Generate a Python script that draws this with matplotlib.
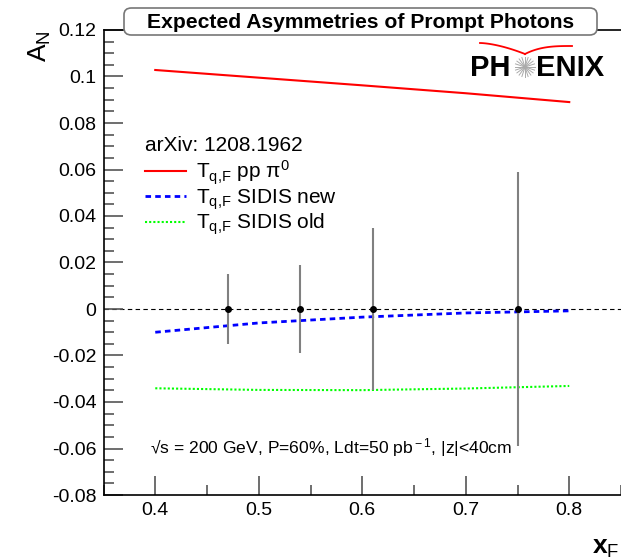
import matplotlib
matplotlib.use('Agg')
import matplotlib.pyplot as plt
from matplotlib.patches import FancyBboxPatch
from matplotlib.lines import Line2D
from matplotlib.ticker import MultipleLocator
import numpy as np

plt.rcParams['font.family'] = ['Liberation Sans', 'DejaVu Sans']
plt.rcParams['mathtext.fontset'] = 'custom'
plt.rcParams['mathtext.rm'] = 'Liberation Sans'
plt.rcParams['mathtext.it'] = 'Liberation Sans:italic'

# theory curves (arXiv: 1208.1962)
curve_x = [0.4, 0.5, 0.6, 0.7, 0.8]
pp_pi0 = [0.1028, 0.0995, 0.0962, 0.0928, 0.0890]
sidis_new = [-0.0100, -0.0060, -0.0035, -0.0017, -0.0008]
sidis_old = [-0.0341, -0.0348, -0.0349, -0.0342, -0.0331]

# projected points
pts_x = [0.47, 0.54, 0.61, 0.75]
pts_y = [0.0, 0.0, 0.0, 0.0]
pts_err = [0.015, 0.019, 0.035, 0.059]

W, H = 621, 560
fig = plt.figure(figsize=(W / 100, H / 100), dpi=100)


def fx(px):
    return px / W


def fy(py):
    return 1 - py / H


ax = fig.add_axes([fx(103.5), fy(495), fx(621) - fx(103.5), fy(30) - fy(495)])
ax.set_xlim(0.35, 0.85)
ax.set_ylim(-0.08, 0.12)

ax.axhline(0, color='black', lw=0.8, ls=(0, (4, 3)), zorder=1)

sub = r'$_{\rm q{,}F}$'
ax.plot(curve_x, pp_pi0, color='#ff0000', lw=1.5, label='T' + sub + r' pp π$^{\rm 0}$')
ax.plot(curve_x, sidis_new, color='#0000ff', lw=2, ls=(0, (2, 1.5)),
        label='T' + sub + ' SIDIS new')
ax.plot(curve_x, sidis_old, color='#00ff00', lw=1.5, ls=(0, (1, 1)),
        label='T' + sub + ' SIDIS old')

ax.errorbar(pts_x, pts_y, yerr=pts_err, fmt='o', color='black', ms=4,
            ecolor='#808080', elinewidth=1.5, capsize=0, zorder=5)

ax.xaxis.set_major_locator(MultipleLocator(0.1))
ax.xaxis.set_minor_locator(MultipleLocator(0.05))
ax.yaxis.set_major_locator(MultipleLocator(0.02))
ax.yaxis.set_minor_locator(MultipleLocator(0.005))
ax.tick_params(which='both', direction='in', top=False, right=False,
               labelsize=14, color='#555555', width=1.2)
ax.tick_params(which='major', length=14, pad=5)
ax.tick_params(which='minor', length=7)
ax.set_xticks([0.4, 0.5, 0.6, 0.7, 0.8])
ax.set_xticklabels(['0.4', '0.5', '0.6', '0.7', '0.8'])
ax.set_yticks(np.arange(-0.08, 0.121, 0.02))
ax.set_yticklabels(['-0.08', '-0.06', '-0.04', '-0.02', '0', '0.02', '0.04',
                    '0.06', '0.08', '0.1', '0.12'])
ax.spines['right'].set_visible(False)
for s in ['left', 'bottom', 'top']:
    ax.spines[s].set_linewidth(1.2)

leg = ax.legend(loc='upper left', bbox_to_anchor=(fx(130), fy(121)),
                bbox_transform=fig.transFigure, frameon=False,
                title='arXiv: 1208.1962', alignment='left', fontsize=15,
                title_fontsize=15, handlelength=2.0, handletextpad=0.45,
                labelspacing=0.0, borderpad=0.2)
leg._legend_box.sep = 3

ax.text(fx(150), fy(448), '√s = 200 GeV, P=60%, Ldt=50 pb$^{\\rm -1}$, |z|<40cm',
        transform=fig.transFigure, fontsize=12.6, va='center', ha='left')

fig.text(fx(40), fy(30), r'A$_{\rm N}$', rotation=90, fontsize=19,
         ha='center', va='top')
fig.text(fx(619), fy(548), r'x$_{\rm F}$', fontsize=19, fontweight='bold',
         ha='right', va='center')

# title box
box = FancyBboxPatch((fx(124), fy(35)), fx(597) - fx(124), fy(8) - fy(35),
                     boxstyle='round,pad=0,rounding_size=0.012',
                     transform=fig.transFigure, facecolor='white',
                     edgecolor='#777777', lw=1.2, zorder=10)
fig.add_artist(box)
fig.text(fx(361), fy(22), 'Expected Asymmetries of Prompt Photons',
         fontsize=15.2, fontweight='bold', ha='center', va='center', zorder=11)

# PHENIX logo
fig.text(fx(470), fy(68), 'PH', fontsize=21, fontweight='bold', ha='left', va='center')
fig.text(fx(536), fy(68), 'ENIX', fontsize=21, fontweight='bold', ha='left', va='center')
for a in np.linspace(0, np.pi, 10, endpoint=False):
    dx, dy = 10 * np.cos(a), 10 * np.sin(a)
    fig.add_artist(Line2D([fx(525 - dx), fx(525 + dx)], [fy(67 - dy), fy(67 + dy)],
                          color='#aaaaaa', lw=0.7))
t = np.linspace(0, 1, 30)
sx = 480 + 45 * t
sy = 43 + 11 * t ** 1.6
fig.add_artist(Line2D(fx(sx), fy(sy), color='#ff0000', lw=1.3))
sx2 = 525 + 47 * t
sy2 = 54 - 8 * (1 - (1 - t) ** 3)
fig.add_artist(Line2D(fx(sx2), fy(sy2), color='#ff0000', lw=1.3))

fig.savefig('out.png', dpi=100)
